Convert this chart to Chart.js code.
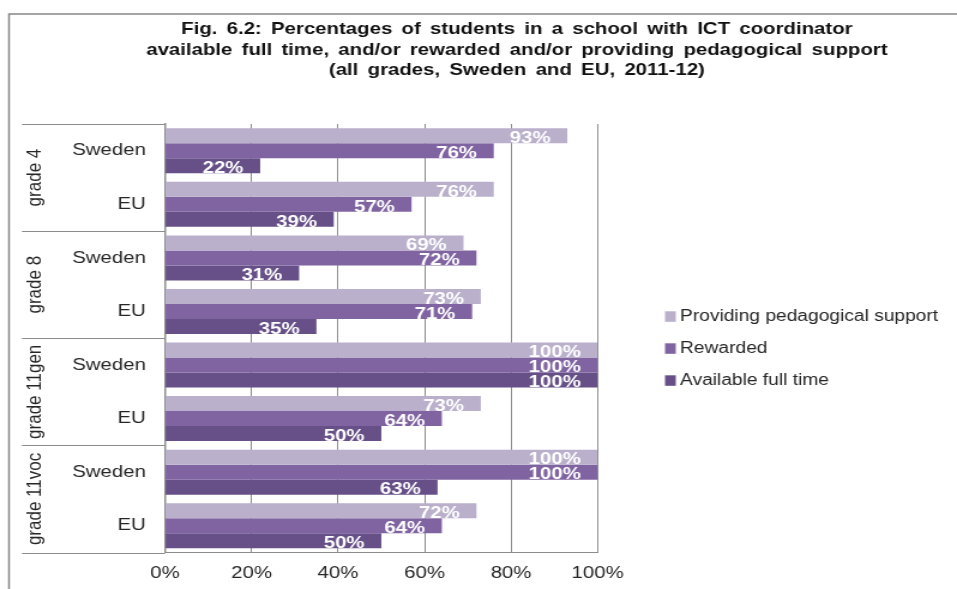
<!DOCTYPE html>
<html><head><meta charset="utf-8">
<script src="https://cdn.jsdelivr.net/npm/chart.js@4.4.1/dist/chart.umd.min.js"></script>
<style>html,body{margin:0;padding:0;background:#fff;overflow:hidden}
#c{display:block}</style></head>
<body><canvas id="c" width="798" height="589" style="width:957px;height:589px"></canvas>
<script>
const titleLines = [
  "Fig. 6.2: Percentages of students in a school with ICT coordinator",
  "available full time, and/or rewarded and/or providing pedagogical support",
  "(all grades, Sweden and EU, 2011-12)"
];
const categories = ["Sweden","EU","Sweden","EU","Sweden","EU","Sweden","EU"];
const groups = ["grade 4","grade 8","grade 11gen","grade 11voc"];
const seriesNames = ["Providing pedagogical support","Rewarded","Available full time"];
const providing = [93,76,69,73,100,73,100,72];
const rewarded  = [76,57,72,71,100,64,100,64];
const fullTime  = [22,39,31,35,100,50,63,50];
const xTicks = [0,20,40,60,80,100];
const colors = ["#BAB0CC","#8064A2","#665087"];

const FONT = "'Liberation Sans', Arial, sans-serif";
const W = 798, H = 589;

const custom = {
  id: 'custom',
  afterDraw(chart) {
    const ctx = chart.ctx;
    const ca = chart.chartArea;
    const y = chart.scales.y;
    ctx.save();
    // outer frame
    ctx.strokeStyle = '#868686';
    ctx.lineWidth = 1.5;
    ctx.beginPath();
    ctx.moveTo(7.5, H); ctx.lineTo(7.5, 14); ctx.lineTo(W, 14);
    ctx.stroke();
    // title
    ctx.fillStyle = '#111';
    ctx.font = "bold 17px " + FONT;
    ctx.textAlign = 'center';
    ctx.textBaseline = 'alphabetic';
    try { ctx.wordSpacing = '3px'; } catch(e) {}
    const tb = [34.3, 54.5, 74.7];
    titleLines.forEach((t, i) => ctx.fillText(t, 431, tb[i]));
    try { ctx.wordSpacing = '0px'; } catch(e) {}
    // group separators
    ctx.strokeStyle = '#8c8c8c';
    ctx.lineWidth = 1;
    for (let g = 0; g <= groups.length; g++) {
      const py = Math.round(y.getPixelForValue(g * 2 - 0.5)) + 0.5;
      ctx.beginPath();
      ctx.moveTo(18.3, py); ctx.lineTo(ca.left, py);
      ctx.stroke();
    }
    // group labels rotated
    ctx.fillStyle = '#262626';
    ctx.font = "17px " + FONT;
    ctx.textAlign = 'center';
    ctx.textBaseline = 'middle';
    groups.forEach((g, i) => {
      const cy = y.getPixelForValue(i * 2 + 0.5);
      ctx.save();
      ctx.translate(29.5, cy);
      ctx.rotate(-Math.PI / 2);
      ctx.fillText(g, 0, 0);
      ctx.restore();
    });
    // data labels
    ctx.fillStyle = '#ffffff';
    ctx.font = "bold 17px " + FONT;
    ctx.textAlign = 'right';
    ctx.textBaseline = 'alphabetic';
    chart.data.datasets.forEach((ds, di) => {
      const meta = chart.getDatasetMeta(di);
      meta.data.forEach((el, i) => {
        ctx.fillText(ds.data[i] + '%', el.x - 14, el.y + el.height / 2 - 0.3);
      });
    });
    // legend
    const rows = [316.5, 348.5, 380.5];
    ctx.font = "16px " + FONT;
    ctx.textAlign = 'left';
    ctx.textBaseline = 'middle';
    chart.data.datasets.forEach((ds, di) => {
      ctx.fillStyle = ds.backgroundColor;
      ctx.fillRect(554.5, rows[di] - 5.2, 9, 10.5);
      ctx.fillStyle = '#262626';
      ctx.fillText(ds.label, 567, rows[di] + 0.5);
    });
    ctx.restore();
  }
};

new Chart(document.getElementById('c'), {
  type: 'bar',
  data: {
    labels: categories,
    datasets: [
      { label: seriesNames[0], data: providing, backgroundColor: colors[0] },
      { label: seriesNames[1], data: rewarded,  backgroundColor: colors[1] },
      { label: seriesNames[2], data: fullTime,  backgroundColor: colors[2] }
    ]
  },
  options: {
    indexAxis: 'y',
    responsive: false,
    animation: false,
    devicePixelRatio: 1,
    layout: { padding: { left: 0, top: 124, right: W - 498.3, bottom: 0 } },
    datasets: { bar: { categoryPercentage: 0.84, barPercentage: 1 } },
    plugins: { legend: { display: false }, title: { display: false }, tooltip: { enabled: false } },
    scales: {
      x: {
        min: 0, max: 100,
        afterBuildTicks: s => { s.ticks = xTicks.map(v => ({ value: v })); },
        ticks: { callback: v => v + '%', font: { family: FONT, size: 17 }, color: '#262626', padding: 11, maxRotation: 0, autoSkip: false },
        grid: { color: '#8c8c8c', drawTicks: false, lineWidth: 1 },
        border: { color: '#8c8c8c', width: 1 },
        afterFit: s => { s.height = H - 552.5; }
      },
      y: {
        ticks: { font: { family: FONT, size: 17 }, color: '#262626', padding: 16 },
        grid: { display: false, drawTicks: false },
        border: { color: '#8c8c8c', width: 1.5 },
        afterFit: s => { s.width = 137.6; }
      }
    }
  },
  plugins: [custom]
});
</script>
</body></html>
